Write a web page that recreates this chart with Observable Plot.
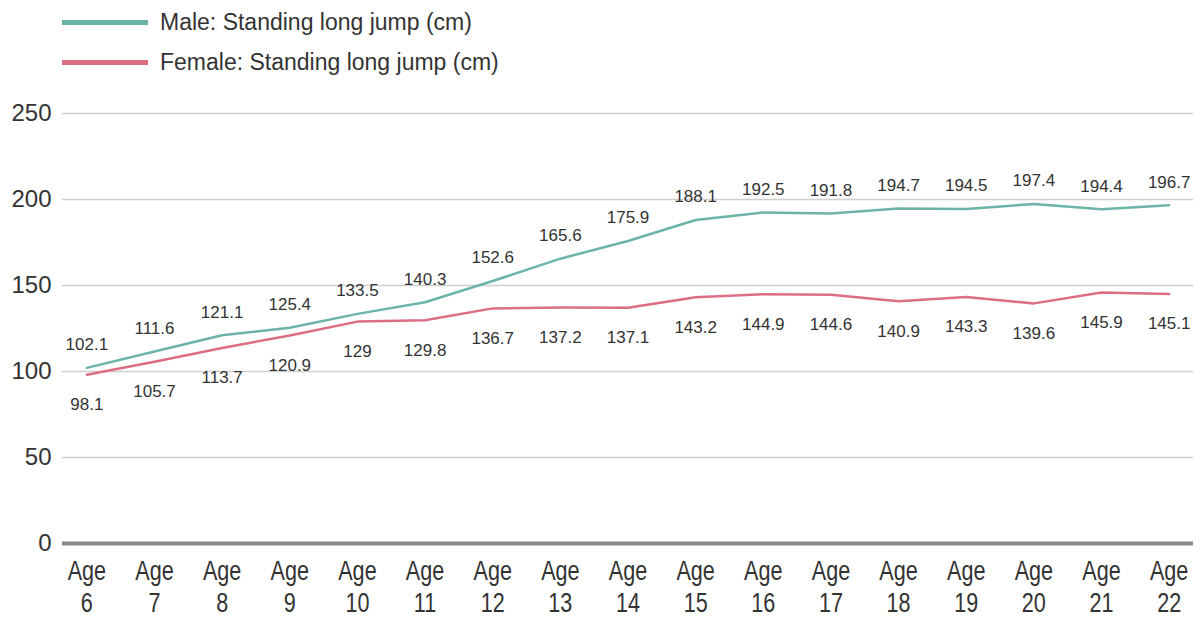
<!DOCTYPE html>
<html><head><meta charset="utf-8">
<script src="https://cdn.jsdelivr.net/npm/d3@7"></script>
<script src="https://cdn.jsdelivr.net/npm/@observablehq/plot@0.6"></script>
<style>
body{margin:0;background:#fff;font-family:"Liberation Sans",Arial,sans-serif;overflow:hidden;}
#legend{height:90px;position:relative;}
.item{position:absolute;left:62px;display:flex;align-items:center;font-size:23px;color:#333;height:30px;}
.sw{width:86px;height:5px;margin-right:12px;}
</style></head><body>
<div id="legend"></div>
<div id="chart"></div>
<script>
const ages = [6,7,8,9,10,11,12,13,14,15,16,17,18,19,20,21,22];
const male = [102.1,111.6,121.1,125.4,133.5,140.3,152.6,165.6,175.9,188.1,192.5,191.8,194.7,194.5,197.4,194.4,196.7];
const female = [98.1,105.7,113.7,120.9,129,129.8,136.7,137.2,137.1,143.2,144.9,144.6,140.9,143.3,139.6,145.9,145.1];
const seriesNames = ["Male: Standing long jump (cm)","Female: Standing long jump (cm)"];
const colors = ["#6cb4a8","#dc6e82"];
const yTicks = [0,50,100,150,200,250];

const leg = document.getElementById("legend");
seriesNames.forEach((n,i)=>{
  const d=document.createElement("div");d.className="item";d.style.top=(7+i*40)+"px";
  d.innerHTML=`<span class="sw" style="background:${colors[i]}"></span><span>${n}</span>`;
  leg.appendChild(d);
});

const maleData = ages.map((a,i)=>({age:a,v:male[i]}));
const femaleData = ages.map((a,i)=>({age:a,v:female[i]}));

const chart = Plot.plot({
  width:1200, height:528,
  marginLeft:62, marginRight:7, marginTop:23, marginBottom:75,
  style:{fontFamily:"Liberation Sans, Arial, sans-serif", color:"#333", background:"#fff"},
  x:{type:"point", domain:ages, padding:0.36, round:false},
  y:{domain:[0,250]},
  marks:[
    Plot.gridY(yTicks.filter(d=>d>0),{stroke:"#cfcfcf",strokeOpacity:1,strokeWidth:1.5}),
    Plot.ruleY([0],{stroke:"#888",strokeWidth:4}),
    Plot.axisY(yTicks,{tickSize:0,tickPadding:11,fontSize:24,fill:"#333",label:null}),
    Plot.axisX(ages,{tickSize:0,tickPadding:13,fontSize:27,fill:"#333",label:null,
      tickFormat:d=>"Age\n"+d,lineHeight:1.2}),
    Plot.line(maleData,{x:"age",y:"v",stroke:colors[0],strokeWidth:2.5}),
    Plot.line(femaleData,{x:"age",y:"v",stroke:colors[1],strokeWidth:2.5}),
    Plot.text(maleData,{x:"age",y:"v",text:d=>String(d.v),dy:-23,fontSize:17,fill:"#333"}),
    Plot.text(femaleData,{x:"age",y:"v",text:d=>String(d.v),dy:30,fontSize:17,fill:"#333"})
  ]
});
d3.select(chart).selectAll('g[aria-label="x-axis tick label"] text').each(function(){
  const t=this.getAttribute("transform")||"";
  this.setAttribute("transform", t+" scale(0.8,1)");
});
document.getElementById("chart").appendChild(chart);
</script>
</body></html>
